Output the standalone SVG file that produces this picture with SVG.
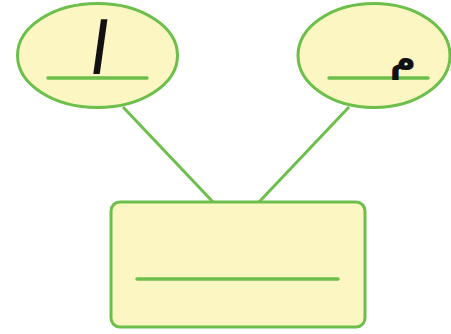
<svg xmlns="http://www.w3.org/2000/svg" width="451" height="334" viewBox="0 0 451 334">
<style>
.node{fill:#fbf6c2;stroke:#6cbf4a;stroke-width:3}
.rule{stroke:#6cbf4a;stroke-width:3.5;stroke-linecap:round}
.conn{stroke:#6cbf4a;stroke-width:3;fill:none}
.ar{font-family:"DejaVu Sans",sans-serif;fill:#111}
</style>
<rect width="451" height="334" fill="#fff"/>
<g id="connectors">
<line class="conn" x1="123" y1="107" x2="213" y2="202"/>
<line class="conn" x1="349" y1="107" x2="259" y2="202"/>
</g>
<g id="node-alif">
<ellipse class="node" cx="97.5" cy="55.5" rx="80" ry="52"/>
<line class="rule" x1="48" y1="78" x2="147" y2="78"/>
<text class="ar" x="98" y="74" font-size="72" text-anchor="middle" transform="skewX(-8) translate(9 0)">ا</text>
</g>
<g id="node-meem">
<ellipse class="node" cx="374" cy="55.5" rx="76" ry="52"/>
<line class="rule" x1="329" y1="78" x2="428" y2="78"/>
<text class="ar" x="403" y="71" font-size="36" font-weight="bold" text-anchor="middle">م</text>
</g>
<g id="node-word">
<rect class="node" x="111" y="202" width="254" height="125" rx="9"/>
<line class="rule" x1="137" y1="279" x2="338" y2="279"/>
</g>
</svg>
